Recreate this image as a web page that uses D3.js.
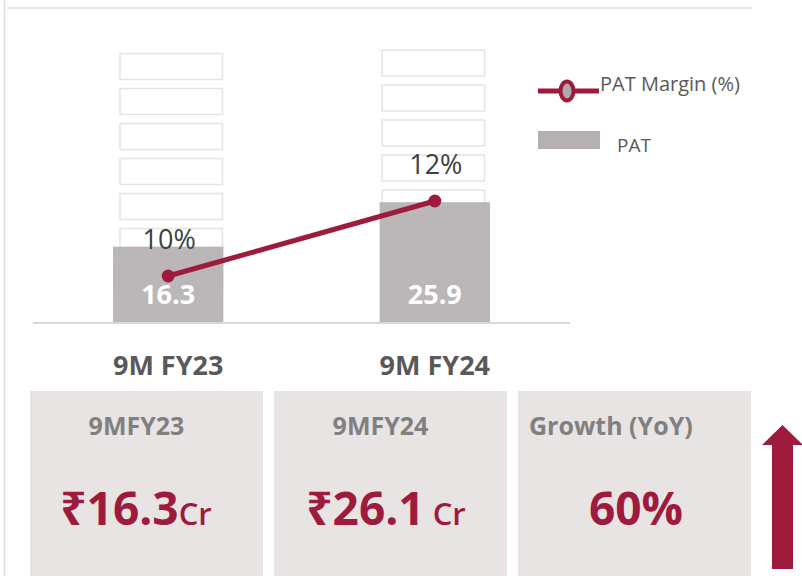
<!DOCTYPE html>
<html>
<head>
<meta charset="utf-8">
<script src="https://cdn.jsdelivr.net/npm/d3@7"></script>
<style>
  body { margin: 0; background: #fff; }
  svg { display: block; font-family: "Open Sans", "Noto Sans", sans-serif; }
</style>
</head>
<body>
<div id="chart"></div>
<script>
// chart data
var periods = ["9M FY23", "9M FY24"];
var pat = [16.3, 25.9];            // PAT, bars
var patMargin = [10, 12];          // PAT Margin (%), line
var marginLabels = ["10%", "12%"];
var ghostSlots = [0, 1, 2, 3, 4, 5, 6];

// summary cards
var cardTitles = ["9MFY23", "9MFY24", "Growth (YoY)"];
var cardValues = ["₹16.3", "₹26.1", "60%"];
var cardUnits = ["Cr", " Cr", ""];

var maroon = "#9e1b3d", barGrey = "#b6b0b2";

var width = 802, height = 576;

var svg = d3.select("#chart")
  .append("svg")
  .attr("width", width)
  .attr("height", height);

// frame lines
svg.append("line")
  .attr("x1", 4.5).attr("x2", 4.5).attr("y1", 0).attr("y2", height)
  .attr("stroke", "#dcdcdc").attr("stroke-width", 1.5);
svg.append("line")
  .attr("x1", 7).attr("x2", 752).attr("y1", 8).attr("y2", 8)
  .attr("stroke", "#dedede").attr("stroke-width", 1.5);

// scales
var x = d3.scaleBand()
  .domain(periods)
  .range([33, 570])
  .paddingInner(0.586)
  .paddingOuter(0.3);

var y = d3.scaleLinear()
  .domain([0, 40])
  .range([322, 137]);

var y2 = d3.scaleLinear()
  .domain([8, 14])
  .range([351, 126]);

// empty placeholder boxes behind the bars
periods.forEach(function(p, i){
  svg.selectAll(null)
    .data(ghostSlots)
    .enter()
    .append("rect")
      .attr("x", x(p) + (i == 0 ? 7 : 2.5))
      .attr("y", function(d){ return (i == 0 ? 53.5 : 50) + d * 35 })
      .attr("width", 102.5)
      .attr("height", 26)
      .attr("fill", "#fff")
      .attr("stroke", "#e4e4e4")
      .attr("stroke-width", 1.5);
});

// bars
svg.selectAll("bars")
  .data(pat)
  .enter()
  .append("rect")
    .attr("x", function(d, i){ return x(periods[i]) })
    .attr("y", function(d){ return y(d) })
    .attr("width", x.bandwidth())
    .attr("height", function(d){ return y(0) - y(d) })
    .attr("fill", barGrey)
    .attr("fill-opacity", 0.93);

// baseline
svg.append("line")
  .attr("x1", 33).attr("x2", 570).attr("y1", y(0) + 1).attr("y2", y(0) + 1)
  .attr("stroke", "#d9d9d9").attr("stroke-width", 2);

// bar value labels
svg.selectAll("barLabels")
  .data(pat)
  .enter()
  .append("text")
    .attr("x", function(d, i){ return x(periods[i]) + x.bandwidth() / 2 })
    .attr("y", 304)
    .attr("text-anchor", "middle")
    .style("font-size", "27px")
    .style("font-weight", "bold")
    .style("fill", "#fff")
    .text(function(d){ return d3.format(".1f")(d) });

// margin line
var line = d3.line()
  .x(function(d, i){ return x(periods[i]) + x.bandwidth() / 2 })
  .y(function(d){ return y2(d) });

svg.append("path")
  .datum(patMargin)
  .attr("d", line)
  .attr("fill", "none")
  .attr("stroke", maroon)
  .attr("stroke-width", 5);

svg.selectAll("dots")
  .data(patMargin)
  .enter()
  .append("circle")
    .attr("cx", function(d, i){ return x(periods[i]) + x.bandwidth() / 2 })
    .attr("cy", function(d){ return y2(d) })
    .attr("r", 6.5)
    .attr("fill", maroon);

svg.selectAll("marginLabels")
  .data(patMargin)
  .enter()
  .append("text")
    .attr("x", function(d, i){ return x(periods[i]) + x.bandwidth() / 2 + 1 })
    .attr("y", function(d){ return y2(d) - 27 })
    .attr("text-anchor", "middle")
    .style("font-size", "27px")
    .style("fill", "#404040")
    .text(function(d, i){ return marginLabels[i] });

// category labels
svg.selectAll("catLabels")
  .data(periods)
  .enter()
  .append("text")
    .attr("x", function(d){ return x(d) + x.bandwidth() / 2 })
    .attr("y", 375)
    .attr("text-anchor", "middle")
    .style("font-size", "27px")
    .style("font-weight", "bold")
    .style("fill", "#595959")
    .text(function(d){ return d });

// legend
svg.append("line")
  .attr("x1", 538).attr("x2", 599).attr("y1", 91).attr("y2", 91)
  .attr("stroke", maroon).attr("stroke-width", 5);
svg.append("ellipse")
  .attr("cx", 567).attr("cy", 91).attr("rx", 6.5).attr("ry", 9.5)
  .attr("fill", "#b0a8aa").attr("stroke", maroon).attr("stroke-width", 4);
svg.append("text")
  .attr("x", 600).attr("y", 91)
  .style("font-size", "20px").style("fill", "#595959")
  .text("PAT Margin (%)");
svg.append("rect")
  .attr("x", 538).attr("y", 131).attr("width", 62).attr("height", 18)
  .attr("fill", barGrey);
svg.append("text")
  .attr("x", 617).attr("y", 152)
  .style("font-size", "19px").style("fill", "#595959")
  .text("PAT");

// summary cards
var cardX = d3.scaleBand()
  .domain(cardTitles)
  .range([30, 751])
  .paddingInner(0.045);

var cards = svg.selectAll("cards")
  .data(cardTitles)
  .enter()
  .append("g")
    .attr("transform", function(d){ return "translate(" + cardX(d) + ",391)" });

cards.append("rect")
  .attr("width", cardX.bandwidth())
  .attr("height", height - 391)
  .attr("fill", "#e8e4e4");

cards.append("text")
  .attr("x", function(d, i){ return i == 2 ? 11 : cardX.bandwidth() / 2 - 10 })
  .attr("y", 44)
  .attr("text-anchor", function(d, i){ return i == 2 ? "start" : "middle" })
  .style("font-size", "25px")
  .style("font-weight", "bold")
  .style("fill", "#808080")
  .text(function(d){ return d });

var vals = cards.append("text")
  .attr("x", function(d, i){ return [106, 112, 118][i] })
  .attr("y", 134)
  .attr("text-anchor", "middle")
  .style("font-weight", "bold")
  .style("fill", maroon);

vals.append("tspan")
  .style("font-size", "46px")
  .text(function(d, i){ return cardValues[i] });
vals.append("tspan")
  .style("font-size", "31px")
  .style("font-weight", "600")
  .text(function(d, i){ return cardUnits[i] });

// growth arrow
svg.append("path")
  .attr("d", "M772,569 L772,445 L762,445 L782.5,425 L803,445 L793,445 L793,569 Z")
  .attr("fill", maroon);
</script>
</body>
</html>
